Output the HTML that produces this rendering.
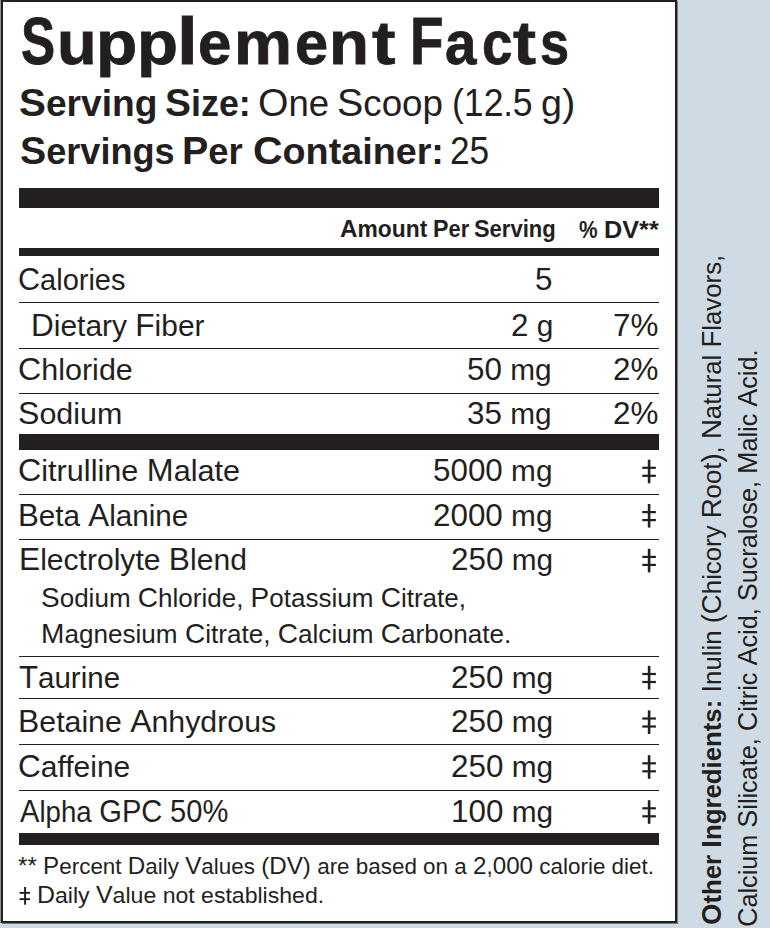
<!DOCTYPE html>
<html><head><meta charset="utf-8"><style>
html,body{margin:0;padding:0;}
body{width:770px;height:928px;position:relative;overflow:hidden;background:#cfdbe4;font-family:"Liberation Sans",sans-serif;color:#231f20;}
.box{position:absolute;left:1px;top:0px;width:672px;height:919px;border:2px solid #231f20;background:#fff;box-shadow:1px 1px 0 rgba(35,31,32,.5);}
.t,.r{position:absolute;white-space:nowrap;line-height:1em;transform-origin:0 0;}
.c{line-height:0;}
.r b{font-weight:700;}
.bp{display:inline-block;width:0;height:0;vertical-align:baseline;}
.bar{position:absolute;left:19px;width:640px;background:#231f20;}
.ov{position:absolute;left:0;top:0;}
.ttl{-webkit-text-stroke:0.8px #231f20;}
.lg{position:absolute;left:0;top:0;width:1px;height:923px;background:#939393;}
</style></head><body>
<div class="lg"></div><div class="box"></div>
<div class="bar" style="top:188px;height:20px"></div><div class="bar" style="top:248px;height:8px"></div><div class="bar" style="top:302px;height:1px"></div><div class="bar" style="top:348px;height:1px"></div><div class="bar" style="top:393px;height:1px"></div><div class="bar" style="top:434px;height:16px"></div><div class="bar" style="top:494px;height:1px"></div><div class="bar" style="top:539px;height:1px"></div><div class="bar" style="top:656px;height:1px"></div><div class="bar" style="top:698px;height:1px"></div><div class="bar" style="top:744px;height:1px"></div><div class="bar" style="top:790px;height:1px"></div><div class="bar" style="top:833px;height:12px"></div><svg class="ov" width="770" height="928" viewBox="0 0 770 928"><g fill="#231f20"><rect x="647.8" y="459.70" width="2.6" height="23.6"/><rect x="642.3" y="466.70" width="13.6" height="2.2"/><rect x="642.3" y="474.70" width="13.6" height="2.2"/><rect x="647.8" y="504.00" width="2.6" height="23.6"/><rect x="642.3" y="511.00" width="13.6" height="2.2"/><rect x="642.3" y="519.00" width="13.6" height="2.2"/><rect x="647.8" y="548.80" width="2.6" height="23.6"/><rect x="642.3" y="555.80" width="13.6" height="2.2"/><rect x="642.3" y="563.80" width="13.6" height="2.2"/><rect x="647.8" y="665.90" width="2.6" height="23.6"/><rect x="642.3" y="672.90" width="13.6" height="2.2"/><rect x="642.3" y="680.90" width="13.6" height="2.2"/><rect x="647.8" y="710.40" width="2.6" height="23.6"/><rect x="642.3" y="717.40" width="13.6" height="2.2"/><rect x="642.3" y="725.40" width="13.6" height="2.2"/><rect x="647.8" y="755.20" width="2.6" height="23.6"/><rect x="642.3" y="762.20" width="13.6" height="2.2"/><rect x="642.3" y="770.20" width="13.6" height="2.2"/><rect x="647.8" y="800.20" width="2.6" height="23.6"/><rect x="642.3" y="807.20" width="13.6" height="2.2"/><rect x="642.3" y="815.20" width="13.6" height="2.2"/><rect x="24.1" y="887" width="2.0" height="17.7"/><rect x="19.5" y="891.9" width="10.6" height="1.9"/><rect x="19.5" y="898.2" width="10.6" height="1.9"/></g></svg>
<div class="t ttl" id="t0" style="left:21.45px;top:11.60px;font-size:61.4px;font-weight:700;transform:scaleX(0.7654)"><span class="c" style="font-size:1.089em">S</span></div><div class="t ttl" id="t1" style="left:56.58px;top:11.60px;font-size:61.4px;font-weight:700;transform:scaleX(1.0567)">u</div><div class="t ttl" id="t2" style="left:96.23px;top:11.60px;font-size:61.4px;font-weight:700;transform:scaleX(1.1004)">p</div><div class="t ttl" id="t3" style="left:136.62px;top:11.60px;font-size:61.4px;font-weight:700;transform:scaleX(1.0939)">p</div><div class="t ttl" id="t4" style="left:176.72px;top:11.60px;font-size:61.4px;font-weight:700;transform:scaleX(1.1137)"><span class="c" style="font-size:1.089em">l</span></div><div class="t ttl" id="t5" style="left:197.64px;top:11.60px;font-size:61.4px;font-weight:700;transform:scaleX(0.9775)">e</div><div class="t ttl" id="t6" style="left:234.18px;top:11.60px;font-size:61.4px;font-weight:700;transform:scaleX(1.0629)">m</div><div class="t ttl" id="t7" style="left:295.45px;top:11.60px;font-size:61.4px;font-weight:700;transform:scaleX(0.9703)">e</div><div class="t ttl" id="t8" style="left:328.73px;top:11.60px;font-size:61.4px;font-weight:700;transform:scaleX(1.0667)">n</div><div class="t ttl" id="t9" style="left:371.65px;top:11.60px;font-size:61.4px;font-weight:700;transform:scaleX(1.1506)">t</div><div class="t ttl" id="t10" style="left:410.48px;top:11.60px;font-size:61.4px;font-weight:700;transform:scaleX(0.8200)"><span class="c" style="font-size:1.089em">F</span></div><div class="t ttl" id="t11" style="left:445.29px;top:11.60px;font-size:61.4px;font-weight:700;transform:scaleX(0.9206)">a</div><div class="t ttl" id="t12" style="left:481.99px;top:11.60px;font-size:61.4px;font-weight:700;transform:scaleX(0.8905)">c</div><div class="t ttl" id="t13" style="left:513.34px;top:11.60px;font-size:61.4px;font-weight:700;transform:scaleX(1.1256)">t</div><div class="t ttl" id="t14" style="left:539.76px;top:11.60px;font-size:61.4px;font-weight:700;transform:scaleX(0.8518)">s</div><div class="t" id="t15" style="left:18.77px;top:85.71px;font-size:36.6px;font-weight:700;transform:scaleX(1.0159)"><span class="c" style="font-size:1.085em">S</span>erving</div><div class="t" id="t16" style="left:165.42px;top:85.71px;font-size:36.6px;font-weight:700;transform:scaleX(0.9807)"><span class="c" style="font-size:1.085em">S</span>ize:</div><div class="t" id="t17" style="left:258.20px;top:85.71px;font-size:36.6px;transform:scaleX(1.0002)"><span class="c" style="font-size:1.07em">O</span>ne</div><div class="t" id="t18" style="left:336.98px;top:85.71px;font-size:36.6px;transform:scaleX(1.0050)"><span class="c" style="font-size:1.07em">S</span>coop</div><div class="t" id="t19" style="left:452.47px;top:85.71px;font-size:36.6px;transform:scaleX(0.9091)"><span class="c" style="font-size:1.07em">(12</span>.<span class="c" style="font-size:1.07em">5</span></div><div class="t" id="t20" style="left:541.02px;top:85.71px;font-size:36.6px;transform:scaleX(1.0291)">g<span class="c" style="font-size:1.07em">)</span></div><div class="t" id="t21" style="left:19.81px;top:134.31px;font-size:36.6px;font-weight:700;transform:scaleX(0.9876)"><span class="c" style="font-size:1.085em">S</span>ervings</div><div class="t" id="t22" style="left:182.20px;top:134.31px;font-size:36.6px;font-weight:700;transform:scaleX(0.9951)"><span class="c" style="font-size:1.085em">P</span>er</div><div class="t" id="t23" style="left:253.34px;top:134.31px;font-size:36.6px;font-weight:700;transform:scaleX(1.0311)"><span class="c" style="font-size:1.085em">C</span>ontainer:</div><div class="t" id="t24" style="left:450.20px;top:134.31px;font-size:36.6px;transform:scaleX(0.9000)"><span class="c" style="font-size:1.07em">25</span></div><div class="t" id="t25" style="left:339.61px;top:217.51px;font-size:23.1px;font-weight:700;transform:scaleX(0.9885)"><span class="c" style="font-size:1.063em">A</span>mount</div><div class="t" id="t26" style="left:432.91px;top:217.51px;font-size:23.1px;font-weight:700;transform:scaleX(0.9475)"><span class="c" style="font-size:1.063em">P</span>er</div><div class="t" id="t27" style="left:474.09px;top:217.51px;font-size:23.1px;font-weight:700;transform:scaleX(0.9537)"><span class="c" style="font-size:1.063em">S</span>erving</div><div class="t" id="t28" style="left:579.15px;top:219.40px;font-size:23.1px;font-weight:700;transform:scaleX(0.8500)"><span class="c" style="font-size:1.063em">%</span></div><div class="t" id="t29" style="left:603.94px;top:219.40px;font-size:23.1px;font-weight:700;transform:scaleX(1.0295)"><span class="c" style="font-size:1.063em">DV**</span></div><div class="t" id="t30" style="left:18.43px;top:265.40px;font-size:29.5px;transform:scaleX(0.9830)"><span class="c" style="font-size:1.054em">C</span>alories</div><div class="t" id="t31" style="left:534.85px;top:265.40px;font-size:29.5px;transform:scaleX(1.0097)"><span class="c" style="font-size:1.054em">5</span></div><div class="t" id="t32" style="left:30.77px;top:310.61px;font-size:29.5px;transform:scaleX(1.0149)"><span class="c" style="font-size:1.054em">D</span>ietary <span class="c" style="font-size:1.054em">F</span>iber</div><div class="t" id="t33" style="left:510.62px;top:310.61px;font-size:29.5px;transform:scaleX(1.0097)"><span class="c" style="font-size:1.054em">2</span> g</div><div class="t" id="t34" style="left:612.57px;top:310.61px;font-size:29.5px;transform:scaleX(1.0097)"><span class="c" style="font-size:1.054em">7%</span></div><div class="t" id="t35" style="left:18.14px;top:354.50px;font-size:29.5px;transform:scaleX(1.0343)"><span class="c" style="font-size:1.054em">C</span>hloride</div><div class="t" id="t36" style="left:467.21px;top:354.50px;font-size:29.5px;transform:scaleX(1.0097)"><span class="c" style="font-size:1.054em">50</span> mg</div><div class="t" id="t37" style="left:612.57px;top:354.50px;font-size:29.5px;transform:scaleX(1.0097)"><span class="c" style="font-size:1.054em">2%</span></div><div class="t" id="t38" style="left:18.36px;top:398.90px;font-size:29.5px;transform:scaleX(1.0317)"><span class="c" style="font-size:1.054em">S</span>odium</div><div class="t" id="t39" style="left:467.21px;top:398.90px;font-size:29.5px;transform:scaleX(1.0097)"><span class="c" style="font-size:1.054em">35</span> mg</div><div class="t" id="t40" style="left:612.57px;top:398.90px;font-size:29.5px;transform:scaleX(1.0097)"><span class="c" style="font-size:1.054em">2%</span></div><div class="t" id="t41" style="left:17.92px;top:456.31px;font-size:29.5px;transform:scaleX(1.0379)"><span class="c" style="font-size:1.054em">C</span>itrulline <span class="c" style="font-size:1.054em">M</span>alate</div><div class="t" id="t42" style="left:432.87px;top:456.31px;font-size:29.5px;transform:scaleX(1.0097)"><span class="c" style="font-size:1.054em">5000</span> mg</div><div class="t" id="t43" style="left:17.98px;top:500.61px;font-size:29.5px;transform:scaleX(1.0055)"><span class="c" style="font-size:1.054em">B</span>eta <span class="c" style="font-size:1.054em">A</span>lanine</div><div class="t" id="t44" style="left:432.87px;top:500.61px;font-size:29.5px;transform:scaleX(1.0097)"><span class="c" style="font-size:1.054em">2000</span> mg</div><div class="t" id="t45" style="left:18.55px;top:545.40px;font-size:29.5px;transform:scaleX(1.0196)"><span class="c" style="font-size:1.054em">E</span>lectrolyte <span class="c" style="font-size:1.054em">B</span>lend</div><div class="t" id="t46" style="left:451.03px;top:545.40px;font-size:29.5px;transform:scaleX(1.0097)"><span class="c" style="font-size:1.054em">250</span> mg</div><div class="t" id="t47" style="left:19.20px;top:662.50px;font-size:29.5px;transform:scaleX(1.0010)"><span class="c" style="font-size:1.054em">T</span>aurine</div><div class="t" id="t48" style="left:451.03px;top:662.50px;font-size:29.5px;transform:scaleX(1.0097)"><span class="c" style="font-size:1.054em">250</span> mg</div><div class="t" id="t49" style="left:17.92px;top:707.00px;font-size:29.5px;transform:scaleX(1.0267)"><span class="c" style="font-size:1.054em">B</span>etaine <span class="c" style="font-size:1.054em">A</span>nhydrous</div><div class="t" id="t50" style="left:451.03px;top:707.00px;font-size:29.5px;transform:scaleX(1.0097)"><span class="c" style="font-size:1.054em">250</span> mg</div><div class="t" id="t51" style="left:17.77px;top:751.81px;font-size:29.5px;transform:scaleX(1.0159)"><span class="c" style="font-size:1.054em">C</span>affeine</div><div class="t" id="t52" style="left:451.03px;top:751.81px;font-size:29.5px;transform:scaleX(1.0097)"><span class="c" style="font-size:1.054em">250</span> mg</div><div class="t" id="t53" style="left:19.82px;top:796.81px;font-size:29.5px;transform:scaleX(0.9362)"><span class="c" style="font-size:1.054em">A</span>lpha <span class="c" style="font-size:1.054em">GPC</span> <span class="c" style="font-size:1.054em">50%</span></div><div class="t" id="t54" style="left:451.03px;top:796.81px;font-size:29.5px;transform:scaleX(1.0097)"><span class="c" style="font-size:1.054em">100</span> mg</div><div class="t" id="t55" style="left:41.34px;top:585.60px;font-size:25.0px;transform:scaleX(1.0410)"><span class="c" style="font-size:1.076em">S</span>odium <span class="c" style="font-size:1.076em">C</span>hloride, <span class="c" style="font-size:1.076em">P</span>otassium <span class="c" style="font-size:1.076em">C</span>itrate,</div><div class="t" id="t56" style="left:41.29px;top:622.31px;font-size:25.0px;transform:scaleX(1.0444)"><span class="c" style="font-size:1.076em">M</span>agnesium <span class="c" style="font-size:1.076em">C</span>itrate, <span class="c" style="font-size:1.076em">C</span>alcium <span class="c" style="font-size:1.076em">C</span>arbonate.</div><div class="t" id="t57" style="left:17.77px;top:855.51px;font-size:21.6px;transform:scaleX(1.0384)"><span class="c" style="font-size:1.08em">**</span> <span class="c" style="font-size:1.08em">P</span>ercent <span class="c" style="font-size:1.08em">D</span>aily <span class="c" style="font-size:1.08em">V</span>alues <span class="c" style="font-size:1.08em">(DV)</span> are based on a <span class="c" style="font-size:1.08em">2</span>,<span class="c" style="font-size:1.08em">000</span> calorie diet.</div><div class="t" id="t58" style="left:36.86px;top:885.41px;font-size:21.6px;transform:scaleX(1.0679)"><span class="c" style="font-size:1.08em">D</span>aily <span class="c" style="font-size:1.08em">V</span>alue not established.</div><div class="r" id="r0" style="left:699.61px;top:924.83px;font-size:25.2px;transform:rotate(-90deg) scaleX(1.0229)"><b><span class="c" style="font-size:1.07em">O</span>ther <span class="c" style="font-size:1.07em">I</span>ngredients:</b> <span class="c" style="font-size:1.07em">I</span>nulin <span class="c" style="font-size:1.07em">(C</span>hicory <span class="c" style="font-size:1.07em">R</span>oot<span class="c" style="font-size:1.07em">)</span>, <span class="c" style="font-size:1.07em">N</span>atural <span class="c" style="font-size:1.07em">F</span>lavors,</div><div class="r" id="r1" style="left:735.81px;top:927.20px;font-size:25.2px;transform:rotate(-90deg) scaleX(1.0007)"><span class="c" style="font-size:1.07em">C</span>alcium <span class="c" style="font-size:1.07em">S</span>ilicate, <span class="c" style="font-size:1.07em">C</span>itric <span class="c" style="font-size:1.07em">A</span>cid, <span class="c" style="font-size:1.07em">S</span>ucralose, <span class="c" style="font-size:1.07em">M</span>alic <span class="c" style="font-size:1.07em">A</span>cid.</div>
</body></html>
